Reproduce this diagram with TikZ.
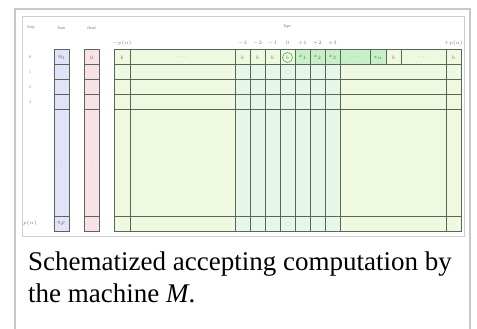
\documentclass[tikz,border=0pt]{standalone}
\usepackage{fontspec}
\setmainfont{Liberation Serif}
\definecolor{framegray}{HTML}{C8C8C8}
\definecolor{tapebg}{HTML}{EEF9E0}
\definecolor{tapemid}{HTML}{E4F7E9}
\definecolor{inputgreen}{HTML}{C8F0C8}
\definecolor{statebg}{HTML}{E2E2F8}
\definecolor{headbg}{HTML}{F8E2E6}
\definecolor{linegray}{HTML}{5A665A}
\definecolor{circgreen}{HTML}{5CB85C}
\begin{document}
\begin{tikzpicture}[x=1pt,y=-1pt,
  lbl/.style={font=\fontsize{4}{4}\selectfont, text=black!55, inner sep=0pt},
  cell/.style={font=\fontsize{4}{4}\selectfont, text=black!60, inner sep=0pt},
  gline/.style={draw=linegray, line width=1pt},
  capt/.style={font=\fontsize{27}{32}\selectfont, anchor=base west, inner sep=0pt}]
\useasboundingbox (0,0) rectangle (477,329);
\fill[white] (0,0) rectangle (477,329);
\draw[framegray, line width=2pt] (15,329) -- (15,9) -- (470,9) -- (470,329);
\draw[framegray!90, line width=0.8pt] (22,16) rectangle (464,236);
\fill[statebg] (54,50) rectangle (69,231);
\fill[headbg] (84,50) rectangle (99,231);
\fill[tapebg] (114,50) rectangle (461,231);
\fill[tapemid] (235,65) rectangle (340,231);
\fill[inputgreen] (295,50) rectangle (386,65);
\draw[gline] (54,50) rectangle (69,231) (54,65) -- (69,65) (54,80) -- (69,80) (54,95) -- (69,95) (54,110) -- (69,110) (54,216) -- (69,216);
\draw[gline] (84,50) rectangle (99,231) (84,65) -- (99,65) (84,80) -- (99,80) (84,95) -- (99,95) (84,110) -- (99,110) (84,216) -- (99,216);
\draw[gline] (114,50) rectangle (461,231) (114,65) -- (461,65) (114,80) -- (461,80) (114,95) -- (461,95) (114,110) -- (461,110) (114,216) -- (461,216);
\draw[gline] (130,50) -- (130,231) (235,50) -- (235,231) (250,50) -- (250,231) (265,50) -- (265,231) (280,50) -- (280,231) (295,50) -- (295,231) (310,50) -- (310,231) (325,50) -- (325,231) (340,50) -- (340,231) (446,50) -- (446,231);
\draw[gline] (370,50) -- (370,65) (386,50) -- (386,65) (401,50) -- (401,65);
\node[lbl] (step) at (31,28){Step};
\node[lbl] (state) at (61.5,28){State};
\node[lbl] (head) at (91.5,28){Head};
\node[lbl] (tape) at (287,27){Tape};
\node[lbl] (row0) at (30,57.5){0};
\node[lbl] (row1) at (30,72.5){1};
\node[lbl] (row2) at (30,87.5){2};
\node[lbl] (row3) at (30,102.5){3};
\node[lbl] (rowp) at (30,223.5){$p(n)$};
\node[lbl] (colmp) at (122,43){$-p(n)$};
\node[lbl] (colm3) at (242.5,43){$-3$};
\node[lbl] (colm2) at (257.5,43){$-2$};
\node[lbl] (colm1) at (272.5,43){$-1$};
\node[lbl] (col0) at (287.5,43){$0$};
\node[lbl] (colp1) at (302.5,43){$+1$};
\node[lbl] (colp2) at (317.5,43){$+2$};
\node[lbl] (colp3) at (332.5,43){$+3$};
\node[lbl] (colpp) at (453.5,43){$+p(n)$};
\node[cell] (q0) at (61.5,57.5){$q_0$};
\node[cell] (qf) at (61.5,223.5){$q_F$};
\node[cell] (h0) at (91.5,57.5){$0$};
\node[cell] (sdots) at (61.5,163){$\vdots$};
\node[cell] (hdots) at (91.5,163){$\vdots$};
\node[cell] (tmp) at (122,57.5){$b$};
\node[cell] (tldots) at (182.5,57.5){$\cdots$};
\node[cell] (tm3) at (242.5,57.5){$b$};
\node[cell] (tm2) at (257.5,57.5){$b$};
\node[cell] (tm1) at (272.5,57.5){$b$};
\node[cell, circle, draw=circgreen, line width=0.7pt, minimum size=10pt] (t0) at (287.5,57.5){$b$};
\node[cell] (tx1) at (302.5,57.5){$x_1$};
\node[cell] (tx2) at (317.5,57.5){$x_2$};
\node[cell] (tx3) at (332.5,57.5){$x_3$};
\node[cell] (txdots) at (355,57.5){$\cdots$};
\node[cell] (txn) at (378,57.5){$x_n$};
\node[cell] (tb) at (393.5,57.5){$b$};
\node[cell] (trdots) at (423.5,57.5){$\cdots$};
\node[cell] (tpp) at (453.5,57.5){$b$};
\node[capt] (cap1) at (28,270.7){Schematized accepting computation by};
\node[capt] (cap2) at (28,302.7){the machine \textit{M}.};
\end{tikzpicture}
\end{document}
